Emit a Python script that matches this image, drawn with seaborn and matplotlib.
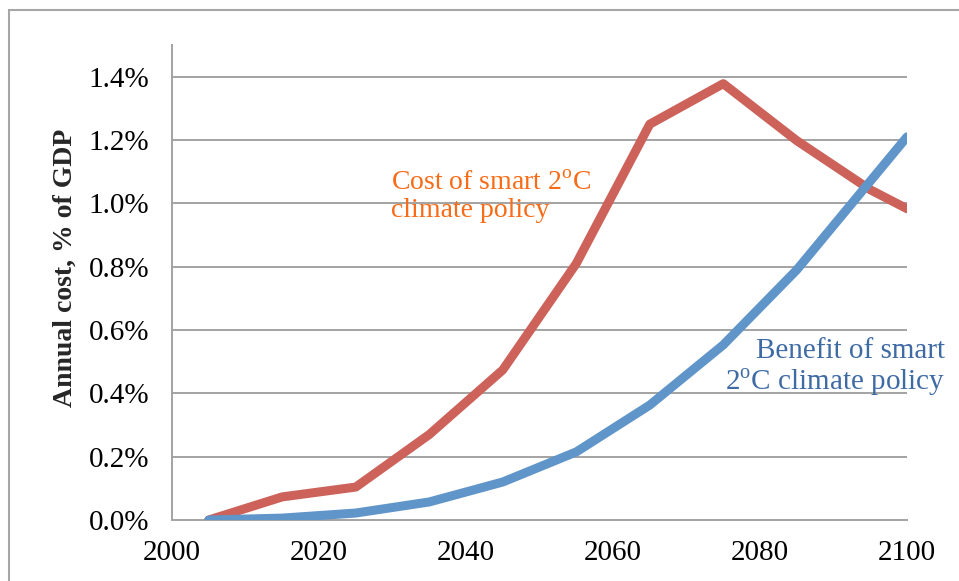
import pandas as pd
import seaborn as sns
import matplotlib.pyplot as plt
from matplotlib.patches import Rectangle
from matplotlib.ticker import FuncFormatter

# data (percent of GDP)
years = [2005, 2015, 2025, 2035, 2045, 2055, 2065, 2075, 2085, 2095, 2100]
cost = [0.0, 0.073, 0.104, 0.27, 0.474, 0.81, 1.25, 1.378, 1.198, 1.043, 0.983]
benefit = [0.0, 0.006, 0.022, 0.057, 0.12, 0.215, 0.363, 0.553, 0.79, 1.07, 1.21]
series_names = ["Cost", "Benefit"]
x_ticks = [2000, 2020, 2040, 2060, 2080, 2100]
y_ticks = [0.0, 0.2, 0.4, 0.6, 0.8, 1.0, 1.2, 1.4]

df = pd.DataFrame({
    "year": years * 2,
    "value": cost + benefit,
    "series": [series_names[0]] * len(years) + [series_names[1]] * len(years),
})

sns.set_style("white")
plt.rcParams["font.family"] = ["Liberation Serif", "DejaVu Serif"]
plt.rcParams["mathtext.fontset"] = "custom"
plt.rcParams["mathtext.rm"] = "Liberation Serif"

fig = plt.figure(figsize=(9.59, 5.81), dpi=100)
ax = fig.add_axes([0.1794, 0.105, 0.9458 - 0.1794, 0.9225 - 0.105])

grid_col = "#A3A3A3"
for t in y_ticks[1:]:
    ax.axhline(t, color=grid_col, lw=1.4, zorder=0)

sns.lineplot(data=df, x="year", y="value", hue="series",
             palette={"Cost": "#CC625A", "Benefit": "#6095C9"},
             linewidth=6.5, legend=False, ax=ax, zorder=3,
             solid_capstyle="round", solid_joinstyle="round")

ax.set_xlim(2000, 2100)
ax.set_ylim(0, 1.5)
ax.set_xticks(x_ticks)
ax.set_yticks(y_ticks)
ax.yaxis.set_major_formatter(FuncFormatter(lambda v, p: f"{v:.1f}%"))
ax.tick_params(axis="both", labelsize=21, colors=grid_col, labelcolor="black",
               length=6.5, width=1.4, direction="out")
ax.tick_params(axis="y", pad=10)
ax.tick_params(axis="x", pad=8)
ax.set_xlabel("")
ax.set_ylabel("Annual cost, % of GDP", fontsize=20, fontweight="bold")
ax.yaxis.set_label_coords(-0.128, 0.53)

for s in ["top", "right"]:
    ax.spines[s].set_visible(False)
for s in ["left", "bottom"]:
    ax.spines[s].set_color(grid_col)
    ax.spines[s].set_linewidth(1.4)

ax.text(2029.8, 1.02, "Cost of smart 2$^{\\rm o}$C\nclimate policy", color="#F96B16",
        fontsize=20, ha="left", va="center", linespacing=1.1, zorder=2)
ax.text(2105.2, 0.48, "Benefit of smart\n2$^{\\rm o}$C climate policy", color="#3F6BA5",
        fontsize=21, ha="right", va="center", linespacing=1.1, zorder=4, clip_on=False,
        multialignment="right")

# outer chart frame (cut by the image edges)
fig.patches.append(Rectangle((9 / 959, -0.1), 1.2, 1.1 - 10 / 581,
                             transform=fig.transFigure, fill=False,
                             edgecolor="#A6A6A6", lw=1.5))

fig.savefig("out.png", dpi=100)
